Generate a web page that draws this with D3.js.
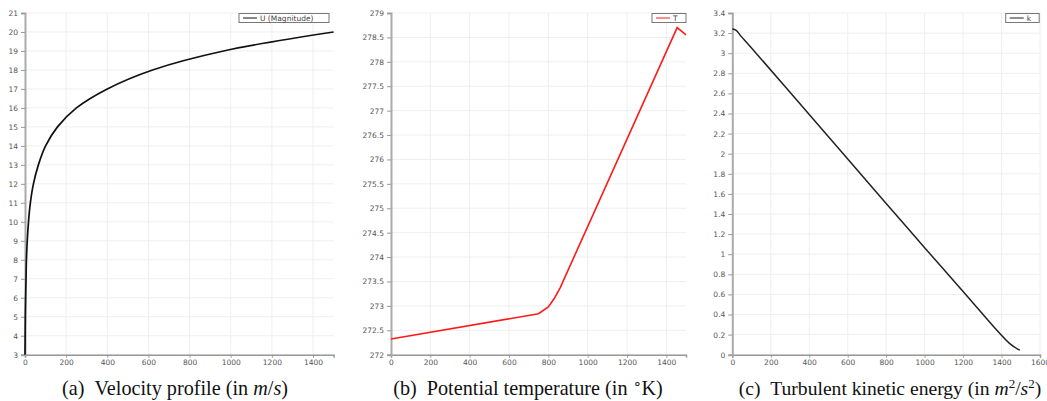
<!DOCTYPE html>
<html>
<head>
<meta charset="utf-8">
<script src="https://cdn.jsdelivr.net/npm/d3@7"></script>
<style>
  body { margin: 0; background: #fff; }
  svg { display: block; }
  .tick text { font-family: "DejaVu Sans", sans-serif; font-size: 7.5px; fill: #555; }
  .caption { font-family: "Liberation Serif", "Times New Roman", serif; font-size: 20.2px; fill: #111; }
</style>
</head>
<body>
<div id="chart"></div>
<script>
//data: [height, value]
const velocity = [[0,3],[0.7,4],[1.5,5],[3,6],[5,7],[7,8],[11,9],[17,10],[26,11],[41,12],[65,13],[100,14],[158,15],[250,16],[400,17],[620,18],[965,19],[1500,20]];
const temperature = [[0,272.32],[750,272.84],[800,272.98],[830,273.15],[860,273.37],[1455,278.7],[1500,278.55]];
const tke = [[0,3.24],[20,3.228],[45,3.17],[92,3.07],[400,2.39],[782,1.545],[1000,1.065],[1200,0.63],[1443,0.11],[1495,0.045]];

//tick values
const ticksVelY = d3.range(3, 21.01, 1);
const ticksTempY = d3.range(272, 279.01, 0.5);
const ticksTkeY = d3.range(0, 3.401, 0.2);
const ticksX15 = [0,200,400,600,800,1000,1200,1400];
const ticksX16 = [0,200,400,600,800,1000,1200,1400,1600];

const width = 1047, height = 401;
const svg = d3.select("#chart").append("svg")
              .attr("width", width)
              .attr("height", height);

//one small line plot
function drawPanel(opt) {
  let g = svg.append("g");
  let x = d3.scaleLinear().domain(opt.xDomain).range([opt.left, opt.right]);
  let y = d3.scaleLinear().domain(opt.yDomain).range([354.7, 13]);

  //grid
  g.append("g").selectAll("line").data(opt.yTicks).enter()
   .append("line")
   .attr("x1", opt.left).attr("x2", opt.right)
   .attr("y1", d => y(d)).attr("y2", d => y(d))
   .attr("stroke", "#efefef");
  g.append("g").selectAll("line").data(opt.xTicks.filter(d => d > 0)).enter()
   .append("line")
   .attr("x1", d => x(d)).attr("x2", d => x(d))
   .attr("y1", 13).attr("y2", 354.7)
   .attr("stroke", "#efefef");

  //axes
  let xAxis = g.append("g")
               .attr("transform", "translate(0,354.7)")
               .call(d3.axisBottom(x).tickValues(opt.xTicks).tickSize(3).tickPadding(2).tickFormat(d3.format("d")));
  xAxis.select(".domain").attr("stroke", "#999").attr("stroke-width", 1.5);
  xAxis.selectAll(".tick line").attr("stroke", "#999");

  let yAxis = g.append("g")
               .attr("transform", `translate(${opt.left},0)`)
               .call(d3.axisLeft(y).tickValues(opt.yTicks).tickSize(4).tickPadding(3).tickFormat(opt.yFormat));
  yAxis.select(".domain").attr("stroke", "#aaa").attr("stroke-width", 2);
  yAxis.selectAll(".tick line").attr("stroke", "#999");

  //curve
  g.append("path")
   .datum(opt.data)
   .attr("fill", "none")
   .attr("stroke", opt.color)
   .attr("stroke-width", opt.lineWidth)
   .attr("d", d3.line()
                .x(d => x(d[0]))
                .y(d => y(d[1]))
                .curve(opt.curve));

  //legend
  let lg = g.append("g").attr("transform", `translate(${opt.legendX},13.5)`);
  lg.append("rect")
    .attr("width", opt.legendW).attr("height", 9)
    .attr("fill", "#fff").attr("stroke", "#777");
  lg.append("line")
    .attr("x1", 4).attr("x2", 18).attr("y1", 4.5).attr("y2", 4.5)
    .attr("stroke", opt.color).attr("stroke-width", 1);
  lg.append("text")
    .attr("x", 21).attr("y", 7.3)
    .style("font-family", "DejaVu Sans, sans-serif")
    .style("font-size", "7.5px")
    .style("fill", "#444")
    .text(opt.label);

  //caption
  let cap = svg.append("text")
               .attr("class", "caption")
               .attr("x", opt.capX).attr("y", 395)
               .attr("text-anchor", "middle");
  opt.caption(cap);
}

drawPanel({
  data: velocity, xDomain: [0,1500], yDomain: [3,21], left: 25, right: 333.6,
  xTicks: ticksX15, yTicks: ticksVelY, yFormat: d3.format("d"),
  color: "#111", lineWidth: 1.7, curve: d3.curveCatmullRom.alpha(0.5),
  legendX: 239, legendW: 90, label: "U (Magnitude)", capX: 175,
  caption: function(t) {
    t.append("tspan").text("(a)\u00a0\u00a0Velocity profile (in ");
    t.append("tspan").style("font-style", "italic").text("m");
    t.append("tspan").text("/");
    t.append("tspan").style("font-style", "italic").text("s");
    t.append("tspan").text(")");
  }
});

drawPanel({
  data: temperature, xDomain: [0,1500], yDomain: [272,279], left: 391, right: 686,
  xTicks: ticksX15, yTicks: ticksTempY, yFormat: d => d3.format("")(d),
  color: "#ff1a1a", lineWidth: 1.6, curve: d3.curveLinear,
  legendX: 652, legendW: 34, label: "T", capX: 528,
  caption: function(t) {
    t.append("tspan").text("(b)\u00a0\u00a0Potential temperature (in ");
    t.append("tspan").attr("font-size", "14px").attr("dy", -7).text("\u2218");
    t.append("tspan").attr("dy", 7).text("K)");
  }
});

drawPanel({
  data: tke, xDomain: [0,1600], yDomain: [0,3.4], left: 732.3, right: 1040,
  xTicks: ticksX16, yTicks: ticksTkeY, yFormat: d => d3.format("")(+d.toFixed(1)),
  color: "#222", lineWidth: 1.5, curve: d3.curveCatmullRom.alpha(0.5),
  legendX: 1005.7, legendW: 33.5, label: "k", capX: 890,
  caption: function(t) {
    t.style("font-size", "19.6px");
    t.append("tspan").text("(c)\u00a0\u00a0Turbulent kinetic energy (in ");
    t.append("tspan").style("font-style", "italic").text("m");
    t.append("tspan").attr("font-size", "13px").attr("dy", -7).text("2");
    t.append("tspan").attr("dy", 7).text("/");
    t.append("tspan").style("font-style", "italic").text("s");
    t.append("tspan").attr("font-size", "13px").attr("dy", -7).text("2");
    t.append("tspan").attr("dy", 7).text(")");
  }
});
</script>
</body>
</html>
